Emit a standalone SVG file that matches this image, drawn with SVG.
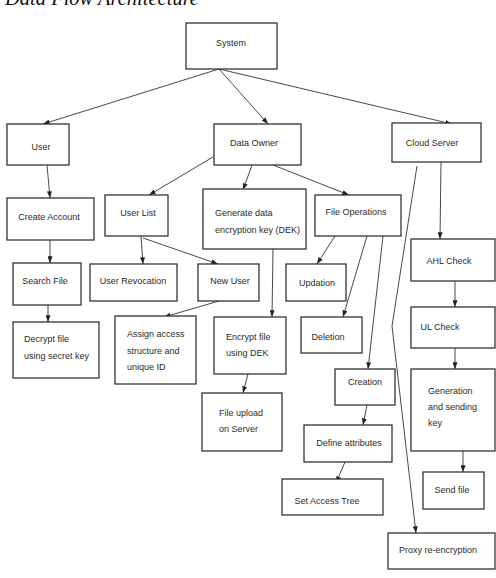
<svg xmlns="http://www.w3.org/2000/svg" width="496" height="578" viewBox="0 0 496 578">
<style>
.b{fill:#fff;stroke:#333;stroke-width:1.3}
.t{font-family:"Liberation Sans",Arial,sans-serif;font-size:9px;fill:#2a2a2a}
.m{text-anchor:middle}
.c line,.c polyline{stroke:#333;stroke-width:0.9;fill:none}
</style>
<defs>
<marker id="a" viewBox="0 0 8 6" refX="8" refY="3" markerWidth="7" markerHeight="5" orient="auto" markerUnits="userSpaceOnUse">
<path d="M0,0 L8,3 L0,6 Z" fill="#222"/>
</marker>
</defs>
<rect width="496" height="578" fill="#fff"/>
<text x="5" y="5" font-family="'Liberation Serif','Times New Roman',serif" font-style="italic" font-size="20.5" fill="#111">Data Flow Architecture</text>

<g class="c">
<line x1="219" y1="69" x2="43" y2="124" marker-end="url(#a)"/>
<line x1="219" y1="69" x2="268" y2="124" marker-end="url(#a)"/>
<line x1="219" y1="69" x2="452" y2="124" marker-end="url(#a)"/>
<line x1="47" y1="165" x2="50" y2="198" marker-end="url(#a)"/>
<line x1="50" y1="240" x2="50" y2="263" marker-end="url(#a)"/>
<line x1="48" y1="305" x2="48" y2="322" marker-end="url(#a)"/>
<line x1="213" y1="157" x2="149" y2="195" marker-end="url(#a)"/>
<line x1="252" y1="165" x2="243" y2="190" marker-end="url(#a)"/>
<line x1="273" y1="165" x2="349" y2="195" marker-end="url(#a)"/>
<line x1="141" y1="236" x2="143" y2="264" marker-end="url(#a)"/>
<line x1="143" y1="238" x2="218" y2="264" marker-end="url(#a)"/>
<line x1="219" y1="301" x2="164" y2="317" marker-end="url(#a)"/>
<line x1="273" y1="249" x2="272" y2="317" marker-end="url(#a)"/>
<line x1="248" y1="374" x2="243" y2="393" marker-end="url(#a)"/>
<line x1="335" y1="236" x2="317" y2="264" marker-end="url(#a)"/>
<line x1="367" y1="236" x2="343" y2="317" marker-end="url(#a)"/>
<line x1="383" y1="236" x2="368" y2="369" marker-end="url(#a)"/>
<line x1="367" y1="405" x2="363" y2="425" marker-end="url(#a)"/>
<line x1="345" y1="462" x2="336" y2="483" marker-end="url(#a)"/>
<line x1="441" y1="162" x2="440" y2="239" marker-end="url(#a)"/>
<line x1="455" y1="281" x2="455" y2="307" marker-end="url(#a)"/>
<line x1="455" y1="348" x2="455" y2="369" marker-end="url(#a)"/>
<line x1="463" y1="451" x2="463" y2="472" marker-end="url(#a)"/>
<polyline points="417,166 392,326 416,533" marker-end="url(#a)"/>
</g>

<g id="system"><rect class="b" x="186" y="23" width="91" height="46"/><text class="t m" x="231" y="46">System</text></g>
<g id="user"><rect class="b" x="7" y="124" width="62" height="41"/><text class="t m" x="41" y="150">User</text></g>
<g id="data-owner"><rect class="b" x="214" y="124" width="87" height="41"/><text class="t m" x="254" y="146">Data Owner</text></g>
<g id="cloud-server"><rect class="b" x="392" y="123" width="89" height="39"/><text class="t m" x="432" y="146">Cloud Server</text></g>
<g id="create-account"><rect class="b" x="7" y="198" width="87" height="42"/><text class="t m" x="49" y="220">Create Account</text></g>
<g id="user-list"><rect class="b" x="105" y="195" width="63" height="41"/><text class="t m" x="138" y="216">User List</text></g>
<g id="generate-dek"><rect class="b" x="203" y="189" width="103" height="60"/><text class="t" x="215" y="216">Generate data</text><text class="t" x="215" y="233">encryption key (DEK)</text></g>
<g id="file-operations"><rect class="b" x="315" y="195" width="86" height="41"/><text class="t m" x="356" y="215">File Operations</text></g>
<g id="search-file"><rect class="b" x="13" y="263" width="68" height="42"/><text class="t m" x="45" y="284">Search File</text></g>
<g id="user-revocation"><rect class="b" x="90" y="264" width="87" height="37"/><text class="t m" x="133" y="284">User Revocation</text></g>
<g id="new-user"><rect class="b" x="198" y="264" width="61" height="37"/><text class="t m" x="230" y="284">New User</text></g>
<g id="updation"><rect class="b" x="286" y="264" width="60" height="37"/><text class="t m" x="317" y="286">Updation</text></g>
<g id="ahl-check"><rect class="b" x="411" y="239" width="84" height="42"/><text class="t m" x="449" y="264">AHL Check</text></g>
<g id="decrypt-file"><rect class="b" x="13" y="322" width="86" height="56"/><text class="t" x="24" y="342">Decrypt file</text><text class="t" x="24" y="359">using secret key</text></g>
<g id="assign-access"><rect class="b" x="115" y="316" width="81" height="68"/><text class="t" x="127" y="337">Assign access</text><text class="t" x="127" y="354">structure and</text><text class="t" x="127" y="370">unique ID</text></g>
<g id="encrypt-file"><rect class="b" x="214" y="317" width="72" height="57"/><text class="t" x="226" y="340">Encrypt file</text><text class="t" x="226" y="356">using DEK</text></g>
<g id="deletion"><rect class="b" x="301" y="317" width="61" height="36"/><text class="t m" x="328" y="340">Deletion</text></g>
<g id="ul-check"><rect class="b" x="411" y="307" width="84" height="41"/><text class="t m" x="440" y="330">UL Check</text></g>
<g id="creation"><rect class="b" x="335" y="369" width="60" height="36"/><text class="t m" x="365" y="385">Creation</text></g>
<g id="generation-key"><rect class="b" x="411" y="369" width="84" height="82"/><text class="t" x="428" y="394">Generation</text><text class="t" x="428" y="410">and sending</text><text class="t" x="428" y="426">key</text></g>
<g id="file-upload"><rect class="b" x="202" y="393" width="80" height="58"/><text class="t" x="219" y="416">File upload</text><text class="t" x="219" y="432">on Server</text></g>
<g id="define-attributes"><rect class="b" x="304" y="425" width="88" height="37"/><text class="t m" x="349" y="446">Define attributes</text></g>
<g id="send-file"><rect class="b" x="423" y="472" width="61" height="37"/><text class="t m" x="452" y="493">Send file</text></g>
<g id="set-access-tree"><rect class="b" x="282" y="479" width="101" height="36"/><text class="t m" x="327" y="504">Set Access Tree</text></g>
<g id="proxy-reencryption"><rect class="b" x="388" y="533" width="107" height="36"/><text class="t m" x="438" y="553">Proxy re-encryption</text></g>
</svg>
